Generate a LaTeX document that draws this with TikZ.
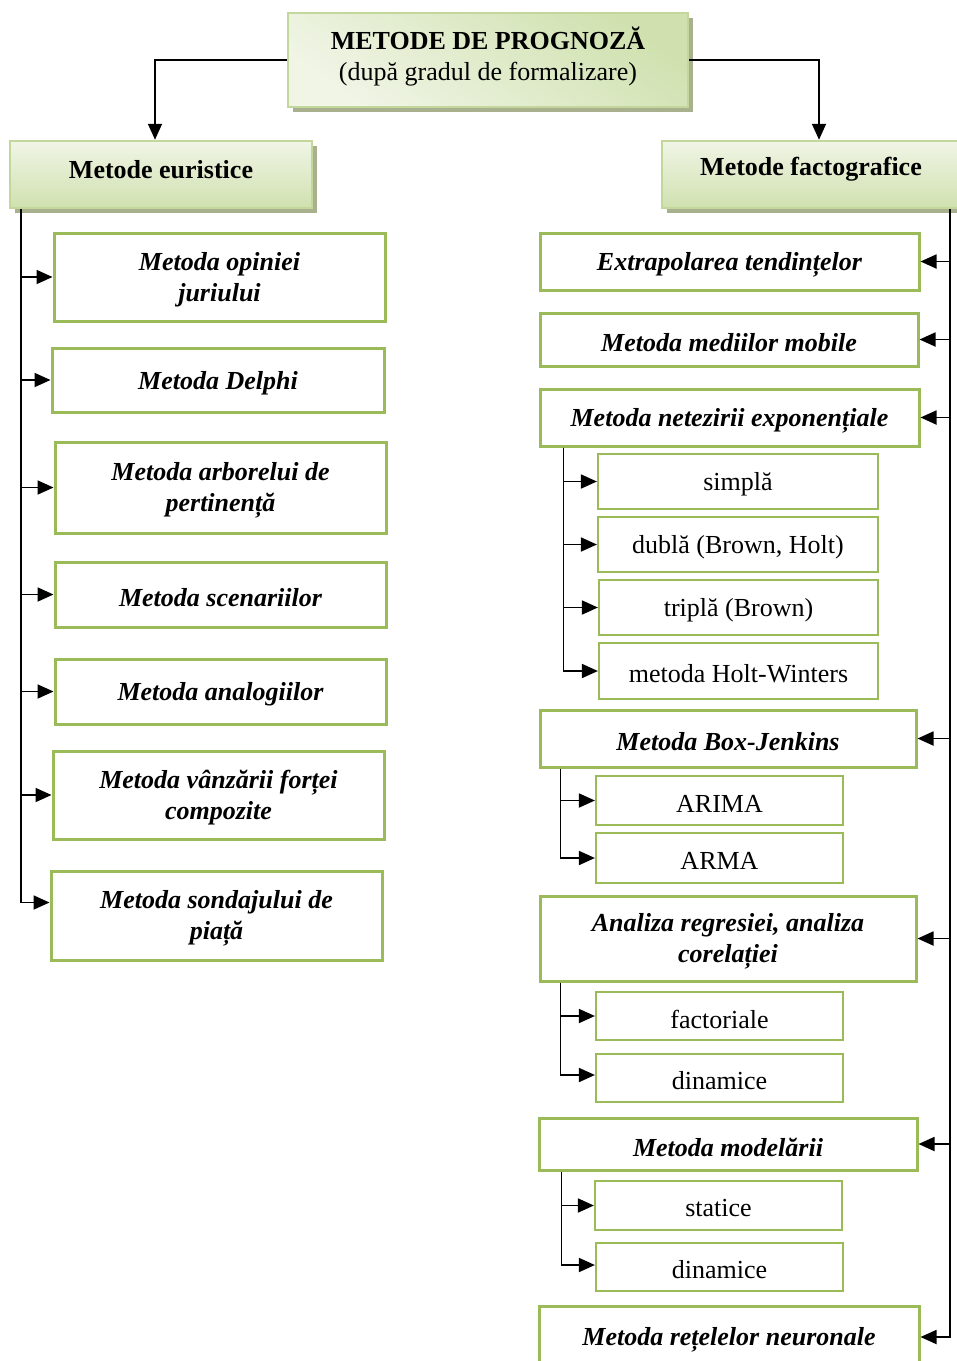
\documentclass[tikz,border=0pt]{standalone}
\usepackage{fontspec}
\setmainfont{Liberation Serif}
\usetikzlibrary{arrows.meta,shadows}
\definecolor{boxgreen}{RGB}{155,187,89}
\definecolor{hdrborder}{RGB}{195,214,155}
\definecolor{hdrdark}{RGB}{208,225,175}
\definecolor{hdrlight}{RGB}{240,245,230}
\definecolor{shadowcol}{RGB}{168,176,142}
\tikzset{
  txt/.style={font=\fontsize{26}{31}\selectfont, align=center, inner sep=0pt},
  boldit/.style={txt, font=\fontsize{26}{31}\selectfont\bfseries\itshape},
  mainbox/.style={draw=boxgreen, line width=3pt, fill=white, inner sep=0pt},
  subbox/.style={draw=boxgreen, line width=2.2pt, fill=white, inner sep=0pt},
  hdrbox/.style={draw=hdrborder, line width=2.5pt, top color=hdrlight, bottom color=hdrdark, inner sep=0pt,
    drop shadow={shadow xshift=5pt, shadow yshift=-5pt, fill=shadowcol, opacity=1}},
  arr/.style={line width=1.8pt, -{Triangle[length=16pt,width=14pt]}},
}
% box style, text style, name, x1, x2, y1, y2, text
\newcommand{\bx}[8]{%
  \node[#1, minimum width={#5-#4}, minimum height={#7-#6}] (#3) at ({(#4+#5)/2},{(#6+#7)/2}) {};
  \node[#2] (#3-t) at ([yshift=-3pt]#3.center) {#8};}
\begin{document}
\begin{tikzpicture}[x=1pt,y=-1pt]
\useasboundingbox (0,0) rectangle (957,1361);
\clip (0,0) rectangle (957,1361);
\fill[white] (0,0) rectangle (957,1361);

% root and the two families
\node[hdrbox, top color=hdrdark, bottom color=hdrlight, shading angle=-35,
  minimum width=400, minimum height=94] (top) at (488,60) {};
\node[txt] (top-t) at ([yshift=3pt]top.center)
  {\textbf{METODE DE PROGNOZĂ}\\(după gradul de formalizare)};
\node[hdrbox, minimum width=302, minimum height=67] (eur) at (161,174.5) {};
\node[txt, font=\fontsize{26}{31}\selectfont\bfseries] (eur-t) at ([yshift=5pt]eur.center) {Metode euristice};
\node[hdrbox, minimum width=314, minimum height=67] (fac) at (819,174.5) {};
\node[txt, font=\fontsize{26}{31}\selectfont\bfseries] (fac-t) at ([xshift=-8pt,yshift=5pt]fac.center) {Metode factografice};

\draw[arr] (top.west) -| ([xshift=-6pt]eur.north);
\draw[arr] (top.east) -| (fac.north);

% heuristic methods
\bx{mainbox}{boldit}{l1}{54}{385}{233}{321}{Metoda opiniei\\juriului}
\bx{mainbox}{boldit}{l2}{52}{384}{348}{412}{Metoda Delphi}
\bx{mainbox}{boldit}{l3}{55}{386}{442}{533}{Metoda arborelui de\\pertinență}
\bx{mainbox}{boldit}{l4}{55}{386}{562}{627}{Metoda scenariilor}
\bx{mainbox}{boldit}{l5}{55}{386}{659}{724}{Metoda analogiilor}
\bx{mainbox}{boldit}{l6}{53}{384}{751}{839}{Metoda vânzării forței\\compozite}
\bx{mainbox}{boldit}{l7}{51}{382}{871}{960}{Metoda sondajului de\\piață}

\coordinate (ltop) at ([xshift=12pt]eur.south west);
\foreach \b in {l1,l2,l3,l4,l5,l6}
  \draw[arr] (ltop) |- (\b.west);
\draw[arr] (ltop) |- ([yshift=13pt]l7.west);

% factographic methods
\bx{mainbox}{boldit}{r1}{540}{919}{233}{290}{Extrapolarea tendințelor}
\bx{mainbox}{boldit}{r2}{540}{918}{313}{366}{Metoda mediilor mobile}
\bx{mainbox}{boldit}{r3}{540}{919}{389}{446}{Metoda netezirii exponențiale}
\bx{subbox}{txt}{s1}{598}{878}{454}{509}{simplă}
\bx{subbox}{txt}{s2}{598}{878}{517}{572}{dublă (Brown, Holt)}
\bx{subbox}{txt}{s3}{599}{878}{580}{635}{triplă (Brown)}
\bx{subbox}{txt}{s4}{599}{878}{643}{699}{metoda Holt-Winters}
\bx{mainbox}{boldit}{r4}{540}{916}{710}{767}{Metoda Box-Jenkins}
\bx{subbox}{txt}{a1}{596}{843}{776}{825}{ARIMA}
\bx{subbox}{txt}{a2}{596}{843}{833}{883}{ARMA}
\bx{mainbox}{boldit}{r5}{540}{916}{896}{981}{Analiza regresiei, analiza\\corelației}
\bx{subbox}{txt}{f1}{596}{843}{992}{1040}{factoriale}
\bx{subbox}{txt}{f2}{596}{843}{1054}{1102}{dinamice}
\bx{mainbox}{boldit}{r6}{539}{917}{1118}{1170}{Metoda modelării}
\bx{subbox}{txt}{m1}{595}{842}{1181}{1230}{statice}
\bx{subbox}{txt}{m2}{596}{843}{1243}{1291}{dinamice}
\bx{mainbox}{boldit}{r7}{539}{919}{1306}{1368}{Metoda rețelelor neuronale}

\coordinate (rtop) at ([xshift=-27pt]fac.south east);
\foreach \b in {r1,r2,r3,r4,r5,r6,r7}
  \draw[arr] (rtop) |- (\b.east);

% sub-branches
\coordinate (t3) at ([xshift=25pt]r3.south west);
\foreach \b in {s1,s2,s3,s4}
  \draw[arr] (t3) |- (\b.west);
\coordinate (t4) at ([xshift=22pt]r4.south west);
\foreach \b in {a1,a2}
  \draw[arr] (t4) |- (\b.west);
\coordinate (t5) at ([xshift=22pt]r5.south west);
\draw[arr] (t5) |- (f1.west);
\draw[arr] (t5) |- ([yshift=3pt]f2.west);
\coordinate (t6) at ([xshift=24pt]r6.south west);
\draw[arr] (t6) |- (m1.west);
\draw[arr] (t6) |- ([yshift=2pt]m2.west);
\end{tikzpicture}
\end{document}
